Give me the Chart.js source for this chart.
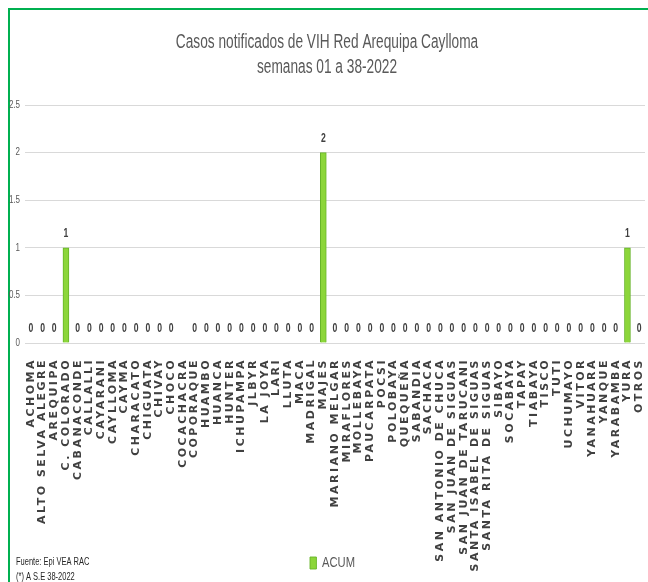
<!DOCTYPE html>
<html>
<head>
<meta charset="utf-8">
<script src="https://cdn.jsdelivr.net/npm/chart.js@4.4.0/dist/chart.umd.min.js"></script>
<style>
    html, body { margin: 0; padding: 0; background: #fff; overflow: hidden; }
    #frame { position: absolute; left: 8px; top: 8px; width: 700px; height: 700px;
             border-left: 2px solid #00b050; border-top: 2px solid #00b050; }
    #wrap { position: absolute; left: 0; top: 0; width: 648px; height: 582px; }
</style>
</head>
<body>
<div id="frame"></div>
<div id="wrap"><canvas id="myChart" width="648" height="582"></canvas></div>
<script>
var titleLines = ['Casos notificados de VIH Red Arequipa Caylloma', 'semanas 01 a 38-2022']
var seriesName = 'ACUM'
var footNotes = ['Fuente: Epi VEA RAC', '(*) A S.E 38-2022']

var categories = [
    'ACHOMA', 'ALTO SELVA ALEGRE', 'AREQUIPA', 'C. COLORADO', 'CABANACONDE',
    'CALLALLI', 'CAYARANI', 'CAYLLOMA', 'CAYMA', 'CHARACATO', 'CHIGUATA',
    'CHIVAY', 'CHOCO', 'COCACHACRA', 'COPORAQUE', 'HUAMBO', 'HUANCA', 'HUNTER',
    'ICHUPAMPA', 'JLBYR', 'LA JOYA', 'LARI', 'LLUTA', 'MACA', 'MADRIGAL', 'MAJES',
    'MARIANO MELGAR', 'MIRAFLORES', 'MOLLEBAYA', 'PAUCARPATA', 'POCSI', 'POLOBAYA',
    'QUEQUEÑA', 'SABANDIA', 'SACHACA', 'SAN ANTONIO DE CHUCA', 'SAN JUAN DE SIGUAS',
    'SAN JUAN DE TARUCANI', 'SANTA ISABEL DE SIGUAS', 'SANTA RITA DE SIGUAS', 'SIBAYO',
    'SOCABAYA', 'TAPAY', 'TIABAYA', 'TISCO', 'TUTI', 'UCHUMAYO', 'VITOR',
    'YANAHUARA', 'YANQUE', 'YARABAMBA', 'YURA', 'OTROS'
]

// COCACHACRA has no value in the source
var acumValues = [
    0, 0, 0, 1, 0, 0, 0, 0, 0, 0, 0, 0, 0, null, 0, 0, 0, 0, 0, 0, 0, 0, 0, 0, 0, 2,
    0, 0, 0, 0, 0, 0, 0, 0, 0, 0, 0, 0, 0, 0, 0, 0, 0, 0, 0, 0, 0, 0, 0, 0, 0, 1, 0
]

var yTickLabels = ['0', '0.5', '1', '1.5', '2', '2.5']

var sans = "'Liberation Sans', Arial, sans-serif"

// the source picture has narrow text, squeeze it horizontally round x = ax
function squeeze(c, ax, sx, dx) {
    c.translate(ax + (dx || 0), 0)
    c.scale(sx, 1)
    c.translate(-ax, 0)
}

// numbers above the bars
var valueLabels = {
    id: 'valueLabels',
    afterDatasetsDraw: function (chart) {
        var c = chart.ctx
        var meta = chart.getDatasetMeta(0)
        c.save()
        c.font = 'bold 12px ' + sans
        c.fillStyle = '#404040'
        c.textAlign = 'center'
        c.textBaseline = 'bottom'
        meta.data.forEach(function (bar, i) {
            var v = chart.data.datasets[0].data[i]
            if (v === null || v === undefined) return
            c.save()
            squeeze(c, bar.x, 0.72)
            c.fillText(String(v), bar.x, bar.y - 8)
            c.restore()
        })
        c.restore()
    }
}

// source notes bottom left
var footer = {
    id: 'footer',
    afterDraw: function (chart) {
        var c = chart.ctx
        c.save()
        squeeze(c, 16, 0.75)
        c.font = '10px ' + sans
        c.fillStyle = '#262626'
        c.textAlign = 'left'
        c.textBaseline = 'middle'
        c.fillText(footNotes[0], 16, 562)
        c.fillText(footNotes[1], 16, 577)
        c.restore()
    }
}

// text styling the library does not offer: spacing, narrow glyphs
var textLook = {
    id: 'textLook',
    afterLayout: function (chart) {
        if (chart._looked) return
        chart._looked = true
        var c = chart.ctx

        var sx = chart.scales.x
        var xDraw = sx.drawLabels
        sx._computeLabelArea = function () { return undefined }
        sx.drawLabels = function (area) {
            c.save()
            c.letterSpacing = '2.5px'
            xDraw.call(this, area)
            c.letterSpacing = '0px'
            c.restore()
        }

        var sy = chart.scales.y
        var yDraw = sy.drawLabels
        sy.drawLabels = function (area) {
            c.save()
            squeeze(c, this.right - 5, 0.8)
            yDraw.call(this, area)
            c.restore()
        }

        var tb = chart.titleBlock
        var tDraw = tb.draw
        tb.draw = function () {
            c.save()
            squeeze(c, (this.left + this.right) / 2, 0.685, 1.5)
            tDraw.apply(this, arguments)
            c.restore()
        }

        var lg = chart.legend
        var lDraw = lg.draw
        lg.draw = function () {
            c.save()
            squeeze(c, (this.left + this.right) / 2, 0.8, 7)
            lDraw.apply(this, arguments)
            c.restore()
        }
    }
}

var ctx = document.getElementById('myChart').getContext('2d')

var chart = new Chart(ctx, {
    type: 'bar',
    data: {
        labels: categories,
        datasets: [
            {
                label: seriesName,
                data: acumValues,
                backgroundColor: '#8cd63a',
                borderColor: '#66b428',
                borderWidth: 1,
                barThickness: 6
            }
        ]
    },
    options: {
        responsive: false,
        animation: false,
        layout: { padding: { left: 6, right: 3, top: 10, bottom: 2 } },
        plugins: {
            title: {
                display: true,
                text: titleLines,
                color: '#595959',
                font: { family: sans, size: 20, weight: 'normal', lineHeight: 1.25 },
                padding: { top: 20, bottom: 25 }
            },
            legend: {
                position: 'bottom',
                labels: {
                    color: '#595959',
                    font: { family: sans, size: 14 },
                    boxWidth: 8,
                    boxHeight: 12,
                    padding: 3
                }
            },
            tooltip: { enabled: false }
        },
        scales: {
            x: {
                grid: { display: false },
                border: { display: false },
                ticks: {
                    autoSkip: false,
                    minRotation: 90,
                    maxRotation: 90,
                    padding: 7,
                    color: '#404040',
                    font: { family: "'DejaVu Sans', sans-serif", size: 11, weight: 'bold' }
                },
                afterFit: function (s) {
                    s.height = 210
                    s.paddingLeft = 0
                    s.paddingRight = 0
                }
            },
            y: {
                min: 0,
                max: 2.5,
                grid: { color: '#d9d9d9', drawTicks: false },
                border: { display: false },
                ticks: {
                    stepSize: 0.5,
                    padding: 5,
                    color: '#595959',
                    font: { family: sans, size: 10 },
                    callback: function (v, i) { return yTickLabels[i] }
                },
                afterFit: function (s) { s.width = 19 }
            }
        }
    },
    plugins: [valueLabels, footer, textLook]
})
</script>
</body>
</html>
